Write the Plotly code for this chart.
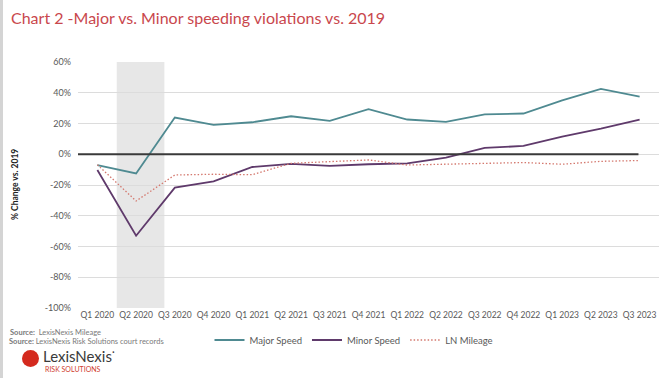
import plotly.graph_objects as go

quarters = ["Q1 2020", "Q2 2020", "Q3 2020", "Q4 2020", "Q1 2021", "Q2 2021", "Q3 2021",
            "Q4 2021", "Q1 2022", "Q2 2022", "Q3 2022", "Q4 2022", "Q1 2023", "Q2 2023", "Q3 2023"]
major_speed = [-7.0, -12.5, 23.9, 19.1, 20.8, 24.7, 21.7, 29.3, 22.6, 21.1, 26.0, 26.5, 35.0, 42.5, 37.5]
minor_speed = [-10.2, -53.0, -21.7, -17.6, -8.3, -6.3, -7.6, -6.5, -5.9, -2.2, 4.1, 5.4, 11.5, 16.7, 22.5]
ln_mileage = [-6.8, -30.4, -13.5, -13.0, -13.3, -5.9, -4.8, -3.7, -7.0, -6.5, -6.0, -5.4, -6.5, -4.6, -4.1]
y_ticks = [60, 40, 20, 0, -20, -40, -60, -80, -100]

W, H = 672, 378
L, R, T, B = 78, 13, 62, 70
PW, PH = W - L - R, H - T - B


def px(x):
    return (x - L) / PW


def py(y):
    return (H - B - y) / PH


FONT = "Lato"
fig = go.Figure()
fig.add_trace(go.Scatter(x=quarters, y=major_speed, name="Major Speed", mode="lines",
                         line=dict(color="#4f8a91", width=1.8)))
fig.add_trace(go.Scatter(x=quarters, y=minor_speed, name="Minor Speed", mode="lines",
                         line=dict(color="#5f3a6b", width=1.8)))
fig.add_trace(go.Scatter(x=quarters, y=ln_mileage, name="LN Mileage", mode="lines",
                         line=dict(color="#d4786e", width=1.3, dash="1.5px,2px")))

shapes = [
    dict(type="rect", xref="x", yref="y", x0=0.5, x1=1.73, y0=-100, y1=60,
         fillcolor="#e7e7e7", line=dict(width=0), layer="below"),
    dict(type="line", xref="x", yref="y", x0=-0.6, x1=13.97, y0=0, y1=0,
         line=dict(color="#3a3a3a", width=2.2)),
    dict(type="rect", xref="paper", yref="paper", x0=px(0), x1=px(3), y0=py(378), y1=py(0),
         fillcolor="#d4d4d4", line=dict(width=0)),
    dict(type="circle", xref="paper", yref="paper", x0=px(22), x1=px(39), y0=py(367), y1=py(350),
         fillcolor="#d42a1e", line=dict(width=0)),
]

annotations = [
    dict(text="Chart 2 -Major vs. Minor speeding violations vs. 2019", xref="paper", yref="paper",
         x=px(9), y=py(18), xanchor="left", yanchor="middle", showarrow=False,
         font=dict(family=FONT, size=16, color="#c9474d")),
    dict(text="<b>% Change vs. 2019</b>", xref="paper", yref="paper", x=px(15), y=py(185),
         xanchor="center", yanchor="middle", textangle=-90, showarrow=False,
         font=dict(family=FONT, size=8.5, color="#222222")),
    dict(text="<b>Source:</b>  LexisNexis Mileage", xref="paper", yref="paper", x=px(8), y=py(332),
         xanchor="left", yanchor="middle", showarrow=False,
         font=dict(family=FONT, size=7.5, color="#7a7a7a")),
    dict(text="<b>Source:</b> LexisNexis Risk Solutions court records", xref="paper", yref="paper",
         x=px(7), y=py(341), xanchor="left", yanchor="middle", showarrow=False,
         font=dict(family=FONT, size=7.5, color="#7a7a7a")),
    dict(text="LexisNexis<sup>·</sup>", xref="paper", yref="paper", x=px(41), y=py(355),
         xanchor="left", yanchor="middle", showarrow=False,
         font=dict(family=FONT, size=15, color="#3a3a3a")),
    dict(text="RISK SOLUTIONS", xref="paper", yref="paper", x=px(43), y=py(369),
         xanchor="left", yanchor="middle", showarrow=False,
         font=dict(family=FONT, size=7, color="#d0402f")),
]

fig.update_layout(
    width=W, height=H,
    margin=dict(l=L, r=R, t=T, b=B, autoexpand=False),
    paper_bgcolor="white", plot_bgcolor="white",
    font=dict(family=FONT, size=9, color="#595959"),
    showlegend=True,
    legend=dict(orientation="h", x=px(354), y=py(340), xanchor="center", yanchor="middle",
                font=dict(family=FONT, size=9.5, color="#595959"), itemwidth=30,
                bgcolor="rgba(0,0,0,0)"),
    shapes=shapes,
    annotations=annotations,
    xaxis=dict(type="category", range=[-0.5, 14.5], showgrid=False, zeroline=False,
               showline=False, ticks="", tickangle=0, automargin=False,
               tickfont=dict(size=8.5, color="#595959"), fixedrange=True),
    yaxis=dict(range=[-100, 60], tickvals=y_ticks, ticktext=[f"{v}%" for v in y_ticks],
               showgrid=True, gridcolor="#dcdcdc", gridwidth=1, zeroline=False,
               showline=False, ticks="", ticklabelstandoff=6, automargin=False,
               tickfont=dict(size=9, color="#595959")),
)

fig.write_html("out.html", config={"displayModeBar": False},
               post_script="document.body.style.margin='0';document.body.style.overflow='hidden';")
